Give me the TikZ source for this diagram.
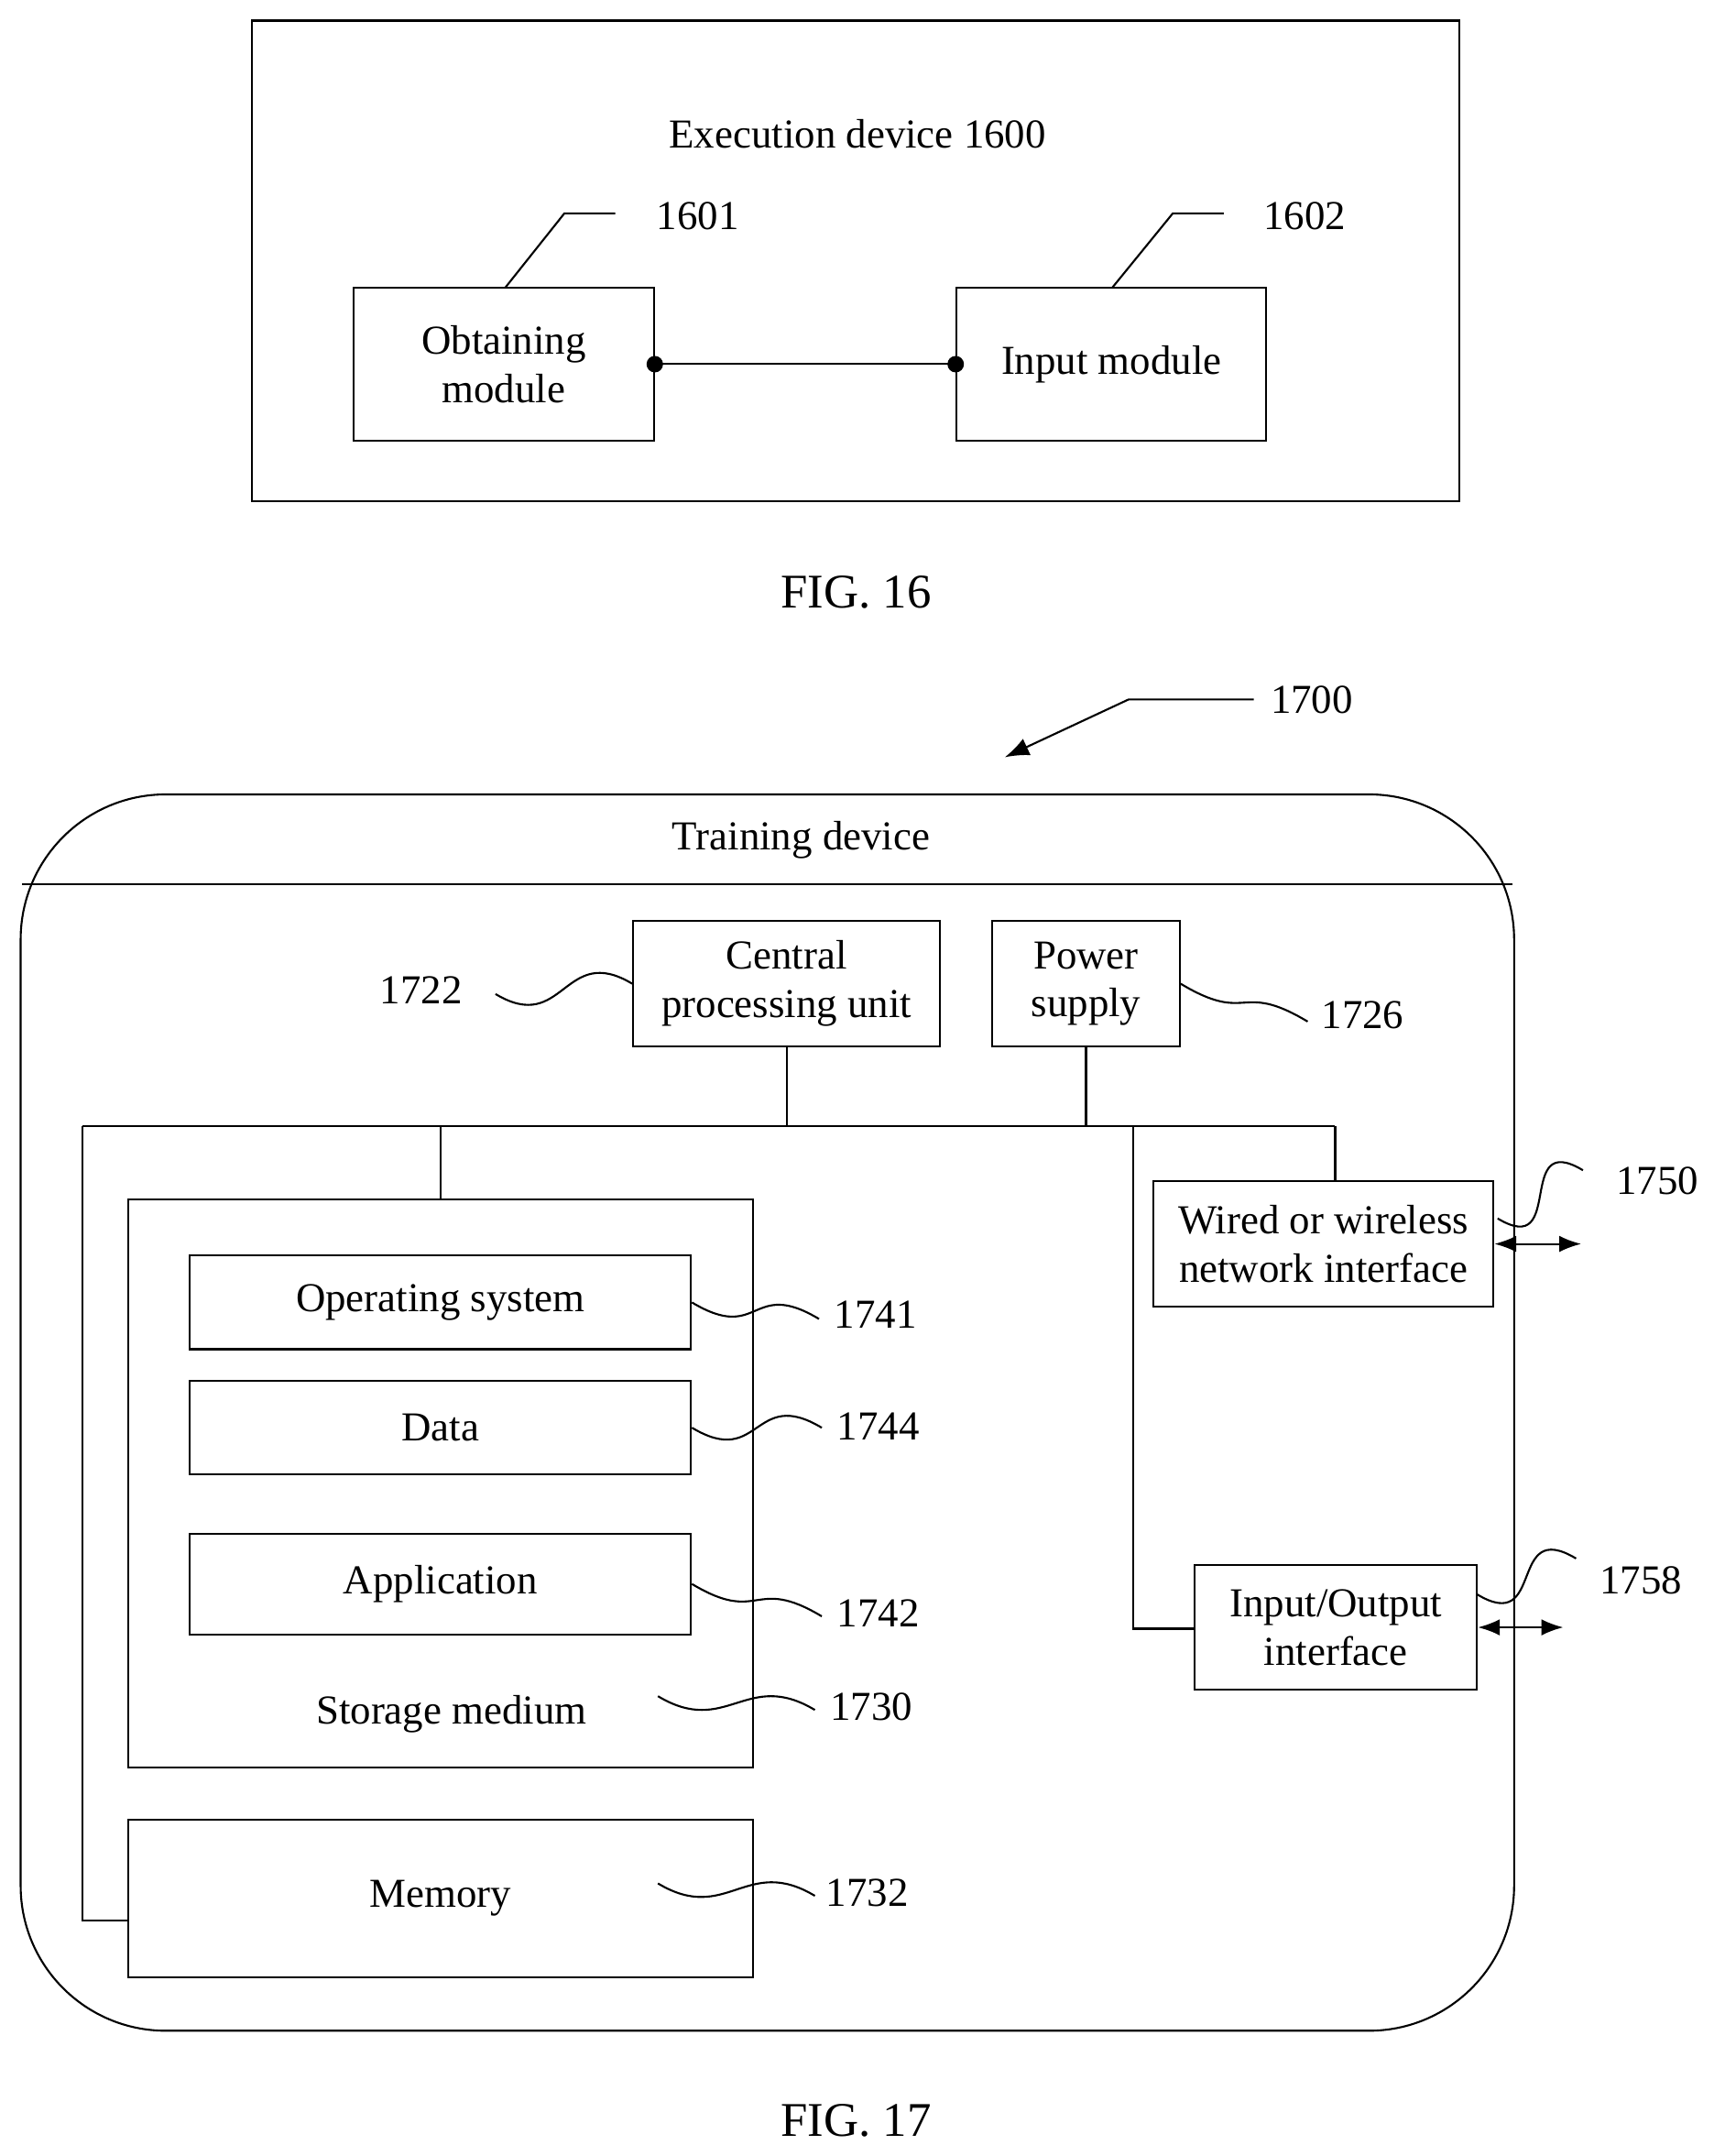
\documentclass[tikz,border=0pt]{standalone}
\usepackage{fontspec}
\setmainfont{Liberation Serif}
\usetikzlibrary{arrows.meta,calc}
\tikzset{
  box/.style={draw, thick, inner sep=2pt, align=center},
  lbl/.style={inner sep=0pt},
  wave/.style={thick},
  dbl/.style={thick, {Latex[length=9pt]}-{Latex[length=9pt]}}
}
% box from corner (x1,y1) to (x2,y2), in pixel units
\newcommand\pbox[6]{\node[box, minimum width={(#4-#2)*0.02cm}, minimum height={(#5-#3)*0.02cm}] (#1) at ({(#2+#4)/2},{(#3+#5)/2}) {#6};}
\newcommand\squig[2]{\draw[wave] #1 .. controls +(50,30) and +(-50,-30) .. #2;}
\begin{document}
\begin{tikzpicture}[x=0.02cm, y=-0.02cm, font=\fontsize{17}{20}\selectfont]
\useasboundingbox (0,0) rectangle (1245,1566);

% FIG. 16
\draw[thick] (183,15) rectangle (1060,364);
\node[lbl] (exec) at (623,97) {Execution device 1600};
\pbox{obtain}{257}{209}{475}{320}{Obtaining\\module}
\pbox{input}{695}{209}{920}{320}{Input module}
\draw[thick] (obtain.east) -- (input.west);
\fill (obtain.east) circle (6);
\fill (input.west) circle (6);
\draw[thick] (367,209) -- (410,155) -- (447,155);
\node[lbl] (l1601) at (507,157) {1601};
\draw[thick] (808,209) -- (852,155) -- (889,155);
\node[lbl] (l1602) at (948,157) {1602};
\node[lbl, font=\fontsize{20}{24}\selectfont] (fig16) at (622,430) {FIG. 16};

% FIG. 17
\node[lbl] (l1700) at (953,508) {1700};
\draw[thick, -{Latex[length=10pt]}] (l1700.west) ++(-12,0) -- (820,508) -- (730,550);
\draw[thick, rounded corners=60] (15,577) rectangle (1100,1475);
\draw[thick] (16,642) -- (1099,642);
\node[lbl] (train) at (582,610) {Training device};

\pbox{cpu}{460}{669}{683}{760}{Central\\processing unit}
\pbox{power}{721}{669}{857}{760}{Power\\supply}
\node[lbl] (l1722) at (306,719) {1722};
\squig{(360,722)}{(cpu.west)}
\node[lbl] (l1726) at (990,737) {1726};
\squig{(power.east)}{(950,742)}

\pbox{storage}{93}{871}{547}{1284}{}
\pbox{os}{138}{912}{502}{980}{Operating system}
\pbox{data}{138}{1003}{502}{1071}{Data}
\pbox{app}{138}{1114}{502}{1187}{Application}
\node[lbl] (stm) at (328,1245) {Storage medium};
\pbox{memory}{93}{1322}{547}{1436}{Memory}
\pbox{wired}{838}{858}{1085}{949}{Wired or wireless\\network interface}
\pbox{io}{868}{1137}{1073}{1227}{Input/Output\\interface}

% bus
\draw[thick] (60,818) -- (970,818);
\draw[thick] (cpu.south) -- (cpu.south |- 0,818);
\draw[thick] (power.south) -- (power.south |- 0,818);
\draw[thick] (60,818) -- (60,1395) -- (memory.west |- 0,1395);
\draw[thick] (storage.north |- 0,818) -- (storage.north);
\draw[thick] (970,818) -- (970,858);
\draw[thick] (823,818) -- (823,1183) -- (io.west |- 0,1183);
\draw[dbl] (wired.east) -- +(63,0);
\draw[dbl] (io.east) -- +(62,0);

% leaders
\squig{(1088,885)}{(1150,850)}
\node[lbl] (l1750) at (1204,858) {1750};
\squig{(1073,1158)}{(1145,1132)}
\node[lbl] (l1758) at (1192,1148) {1758};
\squig{(os.east)}{(595,958)}
\node[lbl] (l1741) at (636,955) {1741};
\squig{(data.east)}{(597,1037)}
\node[lbl] (l1744) at (638,1036) {1744};
\squig{(app.east)}{(597,1174)}
\node[lbl] (l1742) at (638,1172) {1742};
\squig{(478,1232)}{(592,1242)}
\node[lbl] (l1730) at (633,1240) {1730};
\squig{(478,1368)}{(592,1377)}
\node[lbl] (l1732) at (630,1375) {1732};

\node[lbl, font=\fontsize{20}{24}\selectfont] (fig17) at (622,1540) {FIG. 17};
\end{tikzpicture}
\end{document}
